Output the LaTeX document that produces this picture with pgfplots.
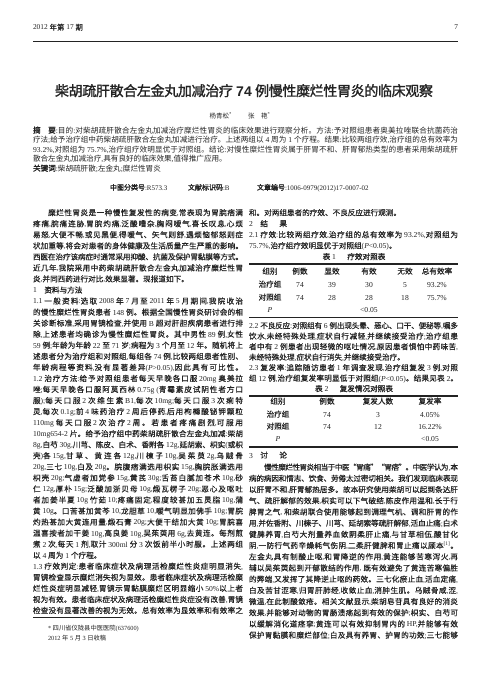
\documentclass[border=0pt]{standalone}
\usepackage{pgfplots}
\pgfplotsset{compat=1.18}
\usepackage{fontspec}
\setmainfont{Liberation Serif}
\setsansfont{Liberation Sans}
\newfontfamily\cjk[FakeBold=0.4]{Noto Sans CJK SC}
\newfontfamily\cjkl{Noto Sans CJK SC}
\newfontfamily\cjkb[FakeBold=1.5]{Noto Sans CJK SC}
\definecolor{ink}{RGB}{35,35,35}

% CJK characters go to the CJK font, everything else stays in Liberation Serif
\XeTeXinterchartokenstate=1
\chardef\cjkclass=7
\newcount\cc
\def\cjkrange#1#2{\cc=#1\relax\loop\XeTeXcharclass\cc=\cjkclass\relax\ifnum\cc<#2\relax\advance\cc by 1\relax\repeat}
\cjkrange{"3000}{"303F}
\cjkrange{"4E00}{"9FFF}
\XeTeXcharclass"201C=\cjkclass
\XeTeXcharclass"201D=\cjkclass
\def\cjkcur{\cjk}
\def\latcur{\rmfamily}
\XeTeXinterchartoks 0 7 = {\cjkcur}
\XeTeXinterchartoks 4095 7 = {\cjkcur}
\XeTeXinterchartoks 7 0 = {\latcur}
\XeTeXinterchartoks 7 4095 = {\latcur}
\XeTeXinterchartoks 7 7 = {\hskip 0pt plus 1fil minus 0.8pt\relax}

\newcommand\hb[1]{{\def\cjkcur{\cjkb}\cjkb #1}}
\newcommand\lt{\def\cjkcur{\cjkl}}
\tikzset{t/.style={anchor=base west, inner sep=0pt, outer sep=0pt, text=ink,
  font=\fontsize{7.6bp}{9bp}\selectfont},
  c/.style={t, anchor=base}}
\newcommand\JL[2]{\node[t] at (axis cs:33,#1) {\makebox[210bp][s]{#2}};}
\newcommand\PL[2]{\node[t] at (axis cs:33,#1) {#2};}
\newcommand\JR[2]{\node[t] at (axis cs:249,#1) {\makebox[209bp][s]{#2}};}
\newcommand\PR[2]{\node[t] at (axis cs:249,#1) {#2};}
\newcommand\ind{\hspace*{2em}}

\begin{document}
\begin{tikzpicture}
\begin{axis}[scale only axis, width=497bp, height=673bp,
  xmin=0, xmax=497, ymin=0, ymax=673, y dir=reverse,
  hide axis, clip=false]
% page
\addplot[draw=none, fill=white, forget plot] coordinates {(0,673) (497,673)} \closedcycle;
% rules
\addplot[ink, line width=0.8pt, forget plot] coordinates {(33,41.5) (458,41.5)};
\addplot[ink, line width=1.1pt, forget plot] coordinates {(249,264) (458,264)};
\addplot[ink, line width=1.1pt, forget plot] coordinates {(249,317.5) (458,317.5)};
\addplot[ink, line width=1.1pt, forget plot] coordinates {(249,396) (458,396)};
\addplot[ink, line width=1.1pt, forget plot] coordinates {(249,447) (458,447)};
\addplot[ink, line width=0.5pt, forget plot] coordinates {(33,617) (123,617)};

% header
\node[t, font=\fontsize{7.4bp}{9bp}\selectfont] at (axis cs:33,30) {2012 年第 17 期};
\node[t, anchor=base east, font=\fontsize{7.4bp}{9bp}\selectfont] at (axis cs:458,30) {7};
% title
\node[c] at (axis cs:244,96) {\fontsize{14bp}{16bp}\selectfont\def\cjkcur{\mdseries\cjkb}\def\latcur{\sffamily\bfseries}\makebox[378bp][s]{柴胡疏肝散合左金丸加减治疗 74 例慢性糜烂性胃炎的临床观察}};
\node[c, font=\fontsize{6.5bp}{8bp}\selectfont] at (axis cs:240,118.5) {\lt 杨青松\textsuperscript{*}\hspace{2.5em}张\hspace{1em}艳\textsuperscript{*}};
% abstract
\node[t] at (axis cs:33,133) {\lt\makebox[425bp][s]{\hb{摘\hspace{1em}要}:目的:对柴胡疏肝散合左金丸加减治疗糜烂性胃炎的临床效果进行观察分析。方法:予对照组患者奥美拉唑联合抗菌药治}};
\node[t] at (axis cs:33,142.5) {\lt\makebox[425bp][s]{疗法;给予治疗组中药柴胡疏肝散合左金丸加减进行治疗。上述两组以 4 周为 1 个疗程。结果:比较两组疗效,治疗组的总有效率为}};
\node[t] at (axis cs:33,152) {\lt\makebox[425bp][s]{93.2\%,对照组为 75.7\%,治疗组疗效明显优于对照组。结论:对慢性糜烂性胃炎属于肝胃不和、肝胃郁热类型的患者采用柴胡疏肝}};
\node[t] at (axis cs:33,161.5) {\lt 散合左金丸加减治疗,具有良好的临床效果,值得推广应用。};
\node[t] at (axis cs:33,171) {\lt\hb{关键词}:柴胡疏肝散;左金丸;糜烂性胃炎};
\node[t, font=\fontsize{7bp}{9bp}\selectfont] at (axis cs:110,190) {\hb{中图分类号}:R573.3};
\node[t, font=\fontsize{7bp}{9bp}\selectfont] at (axis cs:188,190) {\hb{文献标识码}:B};
\node[t, font=\fontsize{7bp}{9bp}\selectfont] at (axis cs:257,190) {\hb{文章编号}:1006-0979(2012)17-0007-02};

% left column
\JL{215.5}{\ind 糜烂性胃炎是一种慢性复发性的病变,常表现为胃脘痞满}
\JL{226.6}{疼痛,脘痛连胁,胃脘灼痛,泛酸嘈杂,胸闷嗳气,喜长叹息,心烦}
\JL{237.6}{易怒,大便不畅,或见黑便,得嗳气、矢气则舒,遇烦恼郁怒则症}
\JL{248.7}{状加重等,将会对患者的身体健康及生活质量产生严重的影响。}
\JL{259.7}{西医在治疗该病症时通常采用抑酸、抗菌及保护胃黏膜等方式。}
\JL{270.8}{近几年,我院采用中药柴胡疏肝散合左金丸加减治疗糜烂性胃}
\PL{281.8}{炎,并同西药进行对比,效果显著。现报道如下。}
\PL{292.9}{1\hspace{1em}\hb{资料与方法}}
\JL{303.9}{1.1 一般资料:选取 2008 年 7 月至 2011 年 5 月期间,我院收治}
\JL{315.0}{的慢性糜烂性胃炎患者 148 例。根据全国慢性胃炎研讨会的相}
\JL{326.0}{关诊断标准,采用胃镜检查,并使用 B 超对肝胆疾病患者进行排}
\JL{337.1}{除,上述患者均确诊为慢性糜烂性胃炎。其中男性 89 例,女性}
\JL{348.1}{59 例;年龄为年龄 22 至 71 岁;病程为 3 个月至 12 年。随机将上}
\JL{359.2}{述患者分为治疗组和对照组,每组各 74 例,比较两组患者性别、}
\JL{370.2}{年龄病程等资料,没有显著差异(\textit{P}>0.05),因此具有可比性。}
\JL{381.3}{1.2 治疗方法:给予对照组患者每天早晚各口服 20mg 奥美拉}
\JL{392.3}{唑;每天早晚各口服阿莫西林 0.75g (青霉素皮试阴性者方口}
\JL{403.4}{服);每天口服 2 次维生素 B1,每次 10mg;每天口服 3 次痢特}
\JL{414.4}{灵,每次 0.1g;前 4 味药治疗 2 周后停药,后用枸橼酸铋钾颗粒}
\JL{425.5}{110mg 每天口服 2 次治疗 2 周。若患者疼痛剧烈,可服用}
\JL{436.5}{10mg654-2 片。给予治疗组中药柴胡疏肝散合左金丸加减:柴胡}
\JL{447.6}{8g,白芍 30g,川芎、陈皮、白术、香附各 12g,延胡索、枳实(或枳}
\JL{458.6}{壳)各 15g,甘草、黄连各 12g,川楝子 10g,吴茱萸 2g,乌贼骨}
\JL{469.7}{20g,三七 10g,白及 20g。脘腹痞满选用枳实 15g,胸脘胀满选用}
\JL{480.7}{枳壳 20g;气虚者加党参 15g,黄芪 30g;舌苔白腻加苍术 10g,砂}
\JL{491.8}{仁 12g,厚朴 15g;泛酸加浙贝母 10g,煅瓦楞子 20g;恶心及呕吐}
\JL{502.8}{者加姜半夏 10g 竹茹 10;疼痛固定,程度较甚加五灵脂 10g,蒲}
\JL{513.9}{黄 10g。口苦甚加黄芩 10,龙胆草 10,嗳气明显加佛手 10g;胃脘}
\JL{524.9}{灼热甚加大黄连用量,煅石膏 20g;大便干结加大黄 10g;胃脘喜}
\JL{536.0}{温喜按者加干姜 10g,高良姜 10g,吴茱萸用 6g,去黄连。每剂煎}
\JL{547.0}{煮 2 次,每天 1 剂,取汁 300ml 分 3 次饭前半小时服。上述两组}
\PL{558.1}{以 4 周为 1 个疗程。}
\JL{569.1}{1.3 疗效判定:患者临床症状及病理活检糜烂性炎症明显消失,}
\JL{580.2}{胃镜检查显示糜烂消失视为显效。患者临床症状及病理活检糜}
\JL{591.2}{烂性炎症明显减轻,胃镜示胃黏膜糜烂区明显缩小 50\%以上者}
\JL{602.3}{视为有效。患者临床症状及病理活检糜烂性炎症没有改善,胃镜}
\JL{613.3}{检查没有显著改善的视为无效。总有效率为显效率和有效率之}
\node[t, font=\fontsize{6.3bp}{8bp}\selectfont] at (axis cs:48,630.5) {\lt * 四川省仪陇县中医医院(637600)};
\node[t, font=\fontsize{6.3bp}{8bp}\selectfont] at (axis cs:48,640) {\lt 2012 年 5 月 3 日收稿};

% right column
\PR{215.5}{和。对两组患者的疗效、不良反应进行观测。}
\PR{226.5}{2\hspace{1em}\hb{结\hspace{1.5em}果}}
\JR{237.5}{2.1 疗效:比较两组疗效,治疗组的总有效率为 93.2\%,对照组为}
\PR{248.5}{75.7\%,治疗组疗效明显优于对照组(\textit{P}<0.05)。}
\node[c] at (axis cs:354,259.5) {\hb{表 1\hspace{1.5em}疗效对照表}};
% table 1
\node[c] at (axis cs:270,274) {组别};
\node[c] at (axis cs:300,274) {例数};
\node[c] at (axis cs:332,274) {显效};
\node[c] at (axis cs:369,274) {有效};
\node[c] at (axis cs:405,274) {无效};
\node[c] at (axis cs:437,274) {总有效率};
\node[c] at (axis cs:270,287) {治疗组};
\node[c] at (axis cs:300,287) {74};
\node[c] at (axis cs:332,287) {39};
\node[c] at (axis cs:369,287) {30};
\node[c] at (axis cs:405,287) {5};
\node[c] at (axis cs:437,287) {93.2\%};
\node[c] at (axis cs:270,300) {对照组};
\node[c] at (axis cs:300,300) {74};
\node[c] at (axis cs:332,300) {28};
\node[c] at (axis cs:369,300) {28};
\node[c] at (axis cs:405,300) {18};
\node[c] at (axis cs:437,300) {75.7\%};
\node[c] at (axis cs:270,312) {\textit{P}};
\node[c] at (axis cs:369,312) {<0.05};
% 2.2, 2.3
\JR{328.5}{2.2 不良反应:对照组有 6 例出现头晕、恶心、口干、便秘等,嘱多}
\JR{339}{饮水,未经特殊处理,症状自行减轻,并继续接受治疗;治疗组患}
\JR{349.5}{者中有 2 例患者出现轻微的呕吐情况,原因患者惧怕中药味苦,}
\PR{360}{未经特殊处理,症状自行消失,并继续接受治疗。}
\JR{370.5}{2.3 复发率:追踪随访患者 1 年调查发现,治疗组复发 3 例,对照}
\JR{381}{组 12 例,治疗组复发率明显低于对照组(\textit{P}<0.05)。结果见表 2。}
\node[c] at (axis cs:354,391.5) {\hb{表 2\hspace{1.5em}复发情况对照表}};
% table 2
\node[c] at (axis cs:278,404) {组别};
\node[c] at (axis cs:327,404) {例数};
\node[c] at (axis cs:378,404) {复发人数};
\node[c] at (axis cs:430,404) {复发率};
\node[c] at (axis cs:278,417) {治疗组};
\node[c] at (axis cs:327,417) {74};
\node[c] at (axis cs:378,417) {3};
\node[c] at (axis cs:430,417) {4.05\%};
\node[c] at (axis cs:278,429) {对照组};
\node[c] at (axis cs:327,429) {74};
\node[c] at (axis cs:378,429) {12};
\node[c] at (axis cs:430,429) {16.22\%};
\node[c] at (axis cs:278,441) {\textit{P}};
\node[c] at (axis cs:430,441) {<0.05};
% discussion
\PR{458}{3\hspace{1em}\hb{讨\hspace{1.5em}论}}
\JR{470}{\ind 慢性糜烂性胃炎相当于中医“胃痛”“胃痞”。中医学认为,本}
\JR{481.2}{病的病因和情志、饮食、劳倦太过密切相关。我们发现临床表现}
\JR{492.4}{以肝胃不和,肝胃郁热居多。故本研究使用柴胡可以起到条达肝}
\JR{503.6}{气、疏肝解郁的效果,枳实可以下气破结,陈皮作用温和,长于行}
\JR{514.8}{脾胃之气, 和柴胡联合使用能够起到调理气机、调和肝胃的作}
\JR{526}{用,并佐香附、川楝子、川芎、延胡索等疏肝解郁,活血止痛;白术}
\JR{537.2}{健脾养胃,白芍大剂量养血敛阴柔肝止痛,与甘草相伍,酸甘化}
\JR{548.4}{阴,一防行气药辛燥耗气伤阴,二柔肝健脾和胃止痛以顾本\textsuperscript{[1]}。}
\JR{559.6}{左金丸具有制酸止呕,和胃降逆的作用,黄连能够苦寒泻火,再}
\JR{570.8}{辅以吴茱萸起到开郁散结的作用, 既有效避免了黄连苦寒偏胜}
\JR{582}{的弊端,又发挥了其降逆止呕的药效。三七化瘀止血,活血定痛,}
\JR{593.2}{白及苦甘涩寒,归胃肝肺经,收敛止血,消肿生肌。乌贼骨咸,涩,}
\JR{604.4}{微温,在此制酸敛疮。相关文献显示,柴胡皂苷具有良好的消炎}
\JR{615.6}{效果,并能够对动物的胃肠溃疡起到有效的保护;枳实、白芍可}
\JR{626.8}{以缓解消化道痉挛;黄连可以有效抑制胃内的 HP,并能够有效}
\JR{638}{保护胃黏膜和糜烂部位;白及具有养胃、护胃的功效;三七能够}
\end{axis}
\end{tikzpicture}
\end{document}
